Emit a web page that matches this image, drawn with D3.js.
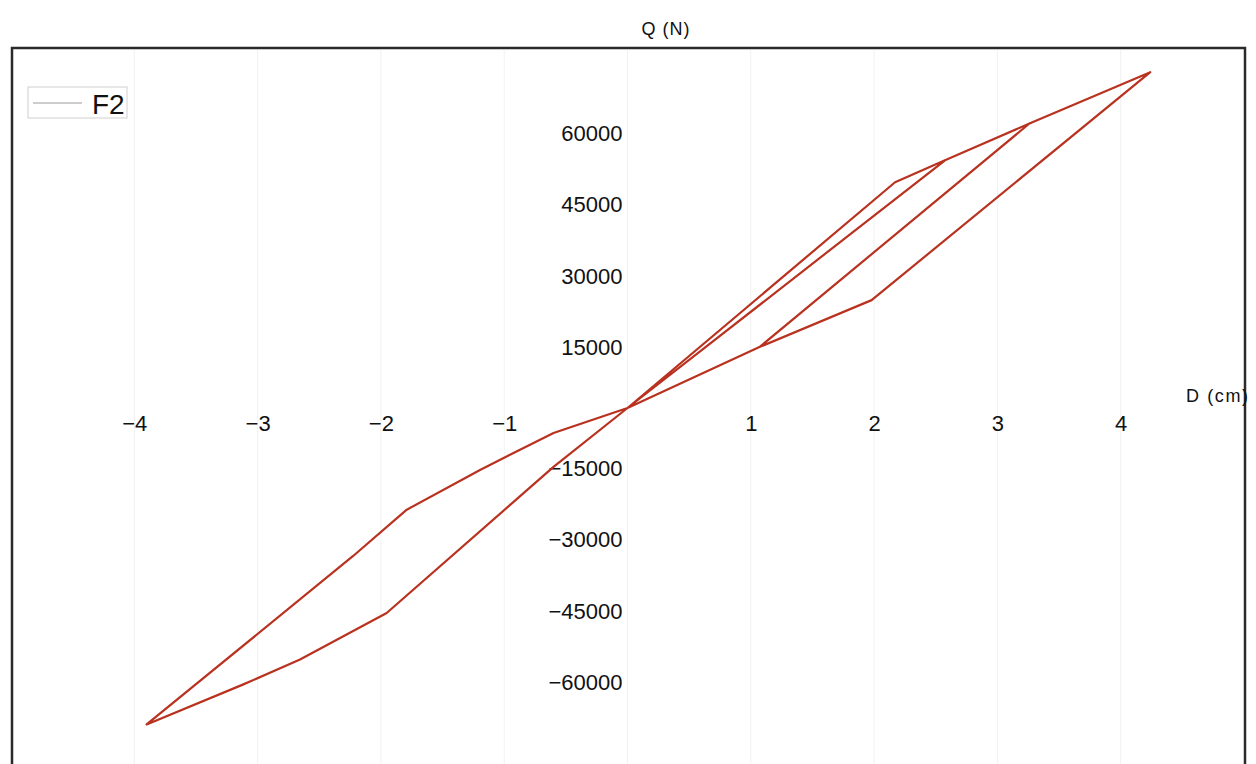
<!DOCTYPE html>
<html>
<head>
<meta charset="utf-8">
<script src="https://cdn.jsdelivr.net/npm/d3@7"></script>
<style>
  html, body { margin: 0; padding: 0; background: #fff; }
  svg { display: block; }
  .tick text { font-family: "Liberation Sans", Arial, sans-serif; fill: #111; }
</style>
</head>
<body>
<svg id="chart" width="1256" height="764"></svg>
<script>
// Hysteresis trace: displacement D (cm) and shear force Q (N), in drawing order
const dispCm = [0, 2.17, 2.575, 0,
  -0.60, -1.196, -1.79, -2.225, -3.90,
  -3.12, -2.656, -1.953, -0.60, 0,
  1.07, 1.98, 4.24, 3.26, 2.575, 3.26, 1.07];
const forceN = [0, 47300, 51900, 0,
  -5230, -12970, -21300, -31000, -66300,
  -57950, -52700, -42950, -12340, 0,
  12760, 22600, 70350, 59600, 51900, 59600, 12760];

const xTicks = [-4, -3, -2, -1, 1, 2, 3, 4];
const yTicks = [-60000, -45000, -30000, -15000, 15000, 30000, 45000, 60000];
const gridX = [-4, -3, -2, -1, 0, 1, 2, 3, 4];
const seriesName = "F2";
const xTitle = "D (cm)";
const yTitle = "Q (N)";

const svg = d3.select("#chart");
const x0 = 627.5, y0 = 408;
const xUnit = 123.3, yUnit = 71.6;   // px per 1 cm, px per 15000 N

const x = d3.scaleLinear().domain([-4, 4]).range([x0 - 4 * xUnit, x0 + 4 * xUnit]);
const y = d3.scaleLinear().domain([-60000, 60000]).range([y0 + 4 * yUnit, y0 - 4 * yUnit]);

const frame = { left: 12, top: 48, right: 1245, bottom: 780 };

// faint vertical grid
svg.append("g").selectAll("line").data(gridX).join("line")
  .attr("x1", d => x(d)).attr("x2", d => x(d))
  .attr("y1", frame.top + 2).attr("y2", frame.bottom)
  .attr("stroke", "#f1f1f1").attr("stroke-width", 1);

// axes through the origin, labels only
const xAxis = d3.axisBottom(x).tickValues(xTicks).tickSize(0).tickPadding(7)
  .tickFormat(d3.format("d"));
const gx = svg.append("g").attr("transform", `translate(0,${y0})`).call(xAxis);
gx.select(".domain").remove();
gx.selectAll("text").attr("font-size", 22);

// value labels sit nudged toward the horizontal axis
const yAxis = d3.axisLeft(y).tickValues(yTicks).tickSize(0).tickPadding(5)
  .tickFormat(d3.format("d"));
const gy = svg.append("g").attr("transform", `translate(${x0},0)`).call(yAxis);
gy.select(".domain").remove();
gy.selectAll("text").attr("font-size", 22)
  .attr("transform", d => `translate(0,${d > 0 ? 11.5 : -11.5})`);

// hysteresis curve
const pts = dispCm.map((d, i) => [d, forceN[i]]);
const line = d3.line().x(d => x(d[0])).y(d => y(d[1]));
svg.append("path").datum(pts)
  .attr("d", line)
  .attr("fill", "none")
  .attr("stroke", "#b8321f")
  .attr("stroke-width", 2.2)
  .attr("stroke-linejoin", "round");

// frame
svg.append("rect")
  .attr("x", frame.left).attr("y", frame.top)
  .attr("width", frame.right - frame.left).attr("height", frame.bottom - frame.top)
  .attr("fill", "none").attr("stroke", "#2a2a2a").attr("stroke-width", 2.5);

// axis titles
svg.append("text").text(yTitle)
  .attr("x", 666).attr("y", 35).attr("text-anchor", "middle")
  .attr("font-family", "Liberation Sans, Arial, sans-serif")
  .attr("font-size", 18).attr("letter-spacing", 1).attr("fill", "#111");
svg.append("text").text(xTitle)
  .attr("x", 1186).attr("y", 402)
  .attr("font-family", "Liberation Sans, Arial, sans-serif")
  .attr("font-size", 18).attr("letter-spacing", 1.6).attr("fill", "#111");

// legend
const lg = svg.append("g");
lg.append("rect").attr("x", 28).attr("y", 87).attr("width", 99).attr("height", 31)
  .attr("fill", "#fff").attr("stroke", "#d0d0d0").attr("stroke-width", 1);
lg.append("line").attr("x1", 33).attr("x2", 82).attr("y1", 103).attr("y2", 103)
  .attr("stroke", "#9a9a9a").attr("stroke-width", 1);
lg.append("text").text(seriesName).attr("x", 92).attr("y", 114)
  .attr("font-family", "Liberation Sans, Arial, sans-serif")
  .attr("font-size", 28).attr("fill", "#111");
</script>
</body>
</html>
